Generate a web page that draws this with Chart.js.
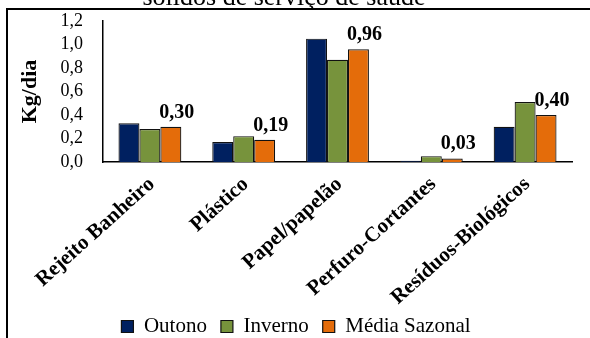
<!DOCTYPE html>
<html>
<head>
<meta charset="utf-8">
<script src="https://cdn.jsdelivr.net/npm/chart.js@4/dist/chart.umd.min.js"></script>
<style>
  html, body { margin: 0; padding: 0; background: #fff; }
  #wrap { width: 590px; height: 338px; position: relative; }
</style>
</head>
<body>
<div id="wrap"><canvas id="c" width="590" height="338"></canvas></div>
<script>
// Waste generation per category (kg/day)
const categories = ['Rejeito Banheiro', 'Plástico', 'Papel/papelão', 'Perfuro-Cortantes', 'Resíduos-Biológicos'];
const outono = [0.33, 0.17, 1.05, 0.01, 0.30];
const inverno = [0.28, 0.22, 0.87, 0.05, 0.51];
const mediaSazonal = [0.30, 0.19, 0.96, 0.03, 0.40];
const seriesNames = ['Outono', 'Inverno', 'Média Sazonal'];
const yTicks = [0, 0.2, 0.4, 0.6, 0.8, 1.0, 1.2];
const titleText = 'sólidos de serviço de saúde';
const axisTitle = 'Kg/dia';

const FONT = '"Liberation Serif", "Times New Roman", serif';
Chart.defaults.font.family = FONT;
Chart.defaults.color = '#000';
const comma = (v, d) => v.toFixed(d).replace('.', ',');

// Frame lines and the (partly clipped) title line
const framePlugin = {
  id: 'frame',
  beforeDraw(chart) {
    const ctx = chart.ctx;
    ctx.save();
    ctx.fillStyle = '#fff';
    ctx.fillRect(0, 0, chart.width, chart.height);
    ctx.strokeStyle = '#000';
    ctx.lineWidth = 2;
    ctx.beginPath();
    ctx.moveTo(7, chart.height);
    ctx.lineTo(7, 9);
    ctx.lineTo(chart.width, 9);
    ctx.stroke();
    ctx.fillStyle = '#000';
    ctx.font = '26px ' + FONT;
    ctx.textAlign = 'center';
    ctx.textBaseline = 'alphabetic';
    ctx.fillText(titleText, 284, 5);
    ctx.restore();
  }
};

// Value labels above the seasonal-average bars
const valueLabels = {
  id: 'valueLabels',
  afterDatasetsDraw(chart) {
    const meta = chart.getDatasetMeta(2);
    const ctx = chart.ctx;
    ctx.save();
    ctx.fillStyle = '#000';
    ctx.font = 'bold 20px ' + FONT;
    ctx.textAlign = 'center';
    ctx.textBaseline = 'alphabetic';
    meta.data.forEach((bar, i) => {
      ctx.fillText(comma(mediaSazonal[i], 2), bar.x + 6, bar.y - 9);
    });
    ctx.restore();
  }
};

// Legend overlaps the lower part of the category-name box;
// that box is stretched to the canvas bottom so long names are not cut
const layoutTweaks = {
  id: 'layoutTweaks',
  afterLayout(chart) {
    const lg = chart.legend;
    if (lg) {
      const h = lg.bottom - lg.top;
      lg.left += 10;
      lg.right += 10;
      lg.top = 302;
      lg.bottom = lg.top + h;
    }
    const x = chart.scales.x;
    x.bottom = chart.height;
    x.height = x.bottom - x.top;
  }
};

const colors = ['#002060', '#77933C', '#E46C0A'];
const values = [outono, inverno, mediaSazonal];

new Chart(document.getElementById('c'), {
  type: 'bar',
  data: {
    labels: categories,
    datasets: seriesNames.map((name, i) => ({
      label: name,
      data: values[i],
      backgroundColor: colors[i],
      borderColor: '#111',
      borderWidth: 1.2,
      categoryPercentage: 0.67,
      barPercentage: 1.0
    }))
  },
  options: {
    responsive: false,
    animation: false,
    devicePixelRatio: 1,
    layout: { padding: { top: 21, right: 18, left: 0, bottom: 0 } },
    plugins: {
      title: { display: false },
      tooltip: { enabled: false },
      legend: {
        display: true,
        position: 'bottom',
        labels: {
          color: '#000',
          font: { family: FONT, size: 21 },
          boxWidth: 12,
          boxHeight: 12,
          padding: 14
        }
      }
    },
    scales: {
      x: {
        grid: { display: false, drawTicks: false },
        border: { display: true, color: '#000', width: 1.5 },
        ticks: {
          color: '#000',
          font: { family: FONT, size: 21, weight: 'bold' },
          minRotation: 42,
          maxRotation: 42,
          autoSkip: false,
          padding: 10,
          labelOffset: 2
        },
        afterFit(scale) {
          const lh = scale.chart.legend ? scale.chart.legend.height : 40;
          scale.height = 338 - 162 - lh;
          scale.paddingLeft = 0;
          scale.paddingRight = 0;
        }
      },
      y: {
        min: 0,
        max: 1.2,
        grid: { display: false, drawTicks: false },
        border: { display: true, color: '#000', width: 1.5 },
        afterBuildTicks(scale) {
          scale.ticks = yTicks.map(v => ({ value: v }));
        },
        ticks: {
          color: '#000',
          font: { family: FONT, size: 18 },
          padding: 20,
          autoSkip: false,
          callback: (v) => comma(v, 1)
        },
        title: {
          display: true,
          text: axisTitle,
          color: '#000',
          font: { family: FONT, size: 22, weight: 'bold' },
          padding: { top: 17, bottom: 0 }
        },
        afterFit(scale) {
          scale.width = 103;
          scale.paddingTop = 0;
          scale.paddingBottom = 0;
        }
      }
    }
  },
  plugins: [framePlugin, valueLabels, layoutTweaks]
});
</script>
</body>
</html>
